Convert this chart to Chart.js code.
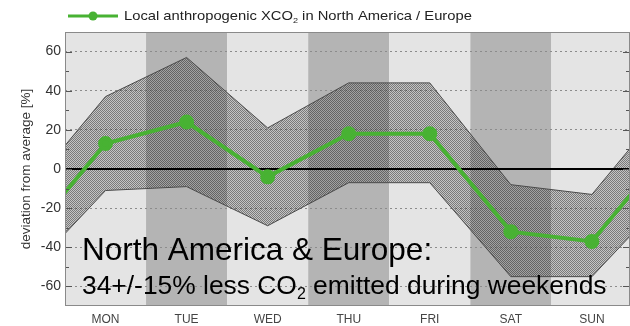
<!DOCTYPE html>
<html>
<head>
<meta charset="utf-8">
<script src="https://cdn.jsdelivr.net/npm/chart.js@4.4.0/dist/chart.umd.min.js"></script>
<style>
  html, body { margin: 0; padding: 0; background: #fff; overflow: hidden; }
  #wrap { width: 630px; height: 326px; }
</style>
</head>
<body>
<div id="wrap"><canvas id="c" width="630" height="326"></canvas></div>
<script>
// Weekly cycle of local anthropogenic XCO2, deviation from average [%]
const days = ['MON', 'TUE', 'WED', 'THU', 'FRI', 'SAT', 'SUN'];
const xco2 = [13, 24, -4, 18, 18, -32, -37];
const upperBound = [37, 57, 21, 44, 44, -8, -13];
const lowerBound = [-11, -9, -29, -7, -7, -55, -55];
const yTickLabels = [-60, -40, -20, 0, 20, 40, 60];

const FONT = '"Liberation Sans", Arial, Helvetica, sans-serif';
const GREEN = '#48b233';

// The week repeats: Sunday precedes Monday and Monday follows Sunday,
// so the curves run on past both edges of the plot.
function weekly(vals) {
  const pts = vals.map((v, i) => ({ x: i, y: v }));
  return [{ x: -1, y: vals[vals.length - 1] }, ...pts, { x: vals.length, y: vals[0] }];
}

// fine checker hatch for the uncertainty band
function hatch() {
  const c = document.createElement('canvas');
  c.width = 2; c.height = 2;
  const g = c.getContext('2d');
  g.fillStyle = 'rgba(115,115,115,0.28)';
  g.fillRect(0, 0, 2, 2);
  g.clearRect(0, 0, 1, 1); g.clearRect(1, 1, 1, 1);
  g.fillStyle = 'rgba(35,35,35,0.55)';
  g.fillRect(0, 0, 1, 1); g.fillRect(1, 1, 1, 1);
  return g.createPattern(c, 'repeat');
}

function drawSubText(ctx, parts, x, y, size) {
  // parts: [text, isSubscript]
  let cx = x;
  for (const [t, sub] of parts) {
    ctx.font = (sub ? Math.round(size * 0.62) : size) + 'px ' + FONT;
    ctx.fillText(t, cx, sub ? y + size * 0.2 : y);
    cx += ctx.measureText(t).width;
  }
  return cx;
}

const decorations = {
  id: 'decorations',
  beforeDraw(chart) {
    const { ctx, chartArea: a, scales: { x } } = chart;
    ctx.save();
    days.forEach((d, i) => {
      const l = Math.max(a.left, x.getPixelForValue(i - 0.5));
      const r = Math.min(a.right, x.getPixelForValue(i + 0.5));
      ctx.fillStyle = i % 2 === 0 ? '#e4e4e4' : '#b4b4b4';
      ctx.fillRect(l, a.top, r - l, a.bottom - a.top);
    });
    ctx.restore();
  },
  beforeDatasetDraw(chart, args) {
    if (args.index !== 0) return;
    const { ctx, chartArea: a, scales: { y } } = chart;
    const y0 = y.getPixelForValue(0);
    ctx.save();
    ctx.strokeStyle = '#000';
    ctx.lineWidth = 2;
    ctx.beginPath();
    ctx.moveTo(a.left, y0); ctx.lineTo(a.right, y0);
    ctx.stroke();
    ctx.restore();
  },
  afterDraw(chart) {
    const { ctx, chartArea: a, scales: { y } } = chart;
    ctx.save();
    // inward tick marks on both sides
    ctx.strokeStyle = '#555';
    ctx.lineWidth = 1;
    y.ticks.forEach(t => {
      if (t.value <= -70 || t.value >= 70) return;
      const len = yTickLabels.includes(t.value) ? 7 : 4;
      const py = Math.round(y.getPixelForValue(t.value)) + 0.5;
      ctx.beginPath();
      ctx.moveTo(a.left, py); ctx.lineTo(a.left + len, py);
      ctx.moveTo(a.right, py); ctx.lineTo(a.right - len, py);
      ctx.stroke();
    });
    // plot frame
    ctx.strokeStyle = '#8a8a8a';
    ctx.strokeRect(a.left + 0.5, a.top + 0.5, a.right - a.left - 1, a.bottom - a.top - 1);

    // y axis title
    ctx.fillStyle = '#333';
    ctx.font = '13.5px ' + FONT;
    ctx.textAlign = 'center';
    ctx.textBaseline = 'middle';
    ctx.translate(26, (a.top + a.bottom) / 2);
    ctx.rotate(-Math.PI / 2);
    ctx.fillText('deviation from average [%]', 0, 0);
    ctx.setTransform(1, 0, 0, 1, 0, 0);

    // legend
    ctx.strokeStyle = GREEN;
    ctx.lineWidth = 3;
    ctx.beginPath();
    ctx.moveTo(68, 16); ctx.lineTo(118, 16);
    ctx.stroke();
    ctx.fillStyle = GREEN;
    ctx.beginPath();
    ctx.arc(93, 16, 4.5, 0, Math.PI * 2);
    ctx.fill();
    ctx.fillStyle = '#222';
    ctx.textAlign = 'left';
    ctx.textBaseline = 'alphabetic';
    ctx.save();
    ctx.translate(124, 20);
    ctx.scale(1.135, 1);
    drawSubText(ctx, [['Local anthropogenic XCO', false], ['2', true], [' in North America / Europe', false]], 0, 0, 13);
    ctx.restore();

    // annotation
    ctx.fillStyle = '#000';
    ctx.font = '31.5px ' + FONT;
    ctx.fillText('North America & Europe:', 82, 260);
    drawSubText(ctx, [['34+/-15% less CO', false], ['2', true], [' emitted during weekends', false]], 82, 294, 26.4);
    ctx.restore();
  }
};

new Chart(document.getElementById('c'), {
  type: 'line',
  data: {
    datasets: [
      {
        label: 'Local anthropogenic XCO2 in North America / Europe',
        data: weekly(xco2),
        borderColor: GREEN,
        backgroundColor: GREEN,
        borderWidth: 4,
        pointRadius: ctx => (ctx.raw && (ctx.raw.x < 0 || ctx.raw.x >= days.length)) ? 0 : 5.5,
        pointBackgroundColor: GREEN,
        pointBorderColor: GREEN,
        tension: 0,
        fill: false,
        order: 0
      },
      {
        label: 'upper',
        data: weekly(upperBound),
        borderColor: '#4a4a4a',
        borderWidth: 1,
        pointRadius: 0,
        backgroundColor: hatch(),
        fill: '+1',
        tension: 0,
        order: 2
      },
      {
        label: 'lower',
        data: weekly(lowerBound),
        borderColor: '#4a4a4a',
        borderWidth: 1,
        pointRadius: 0,
        fill: false,
        tension: 0,
        order: 1
      }
    ]
  },
  options: {
    responsive: false,
    animation: false,
    events: [],
    layout: { padding: { top: 32, left: 0, right: 0, bottom: 0 } },
    plugins: { legend: { display: false }, tooltip: { enabled: false } },
    scales: {
      x: {
        type: 'linear',
        min: -0.5,
        max: 6.47,
        afterBuildTicks: s => { s.ticks = days.map((d, i) => ({ value: i })); },
        afterFit: s => { s.height = 20; },
        grid: { display: false, drawTicks: false },
        border: { display: false },
        ticks: {
          padding: 6,
          color: '#444',
          font: { family: FONT, size: 12 },
          maxRotation: 0,
          autoSkip: false,
          callback: v => days[v] ?? ''
        }
      },
      y: {
        min: -70,
        max: 70,
        afterFit: s => { s.width = 65; },
        grid: {
          drawTicks: false,
          color: ctx => (ctx.tick && ctx.tick.value !== 0 && yTickLabels.includes(ctx.tick.value)) ? '#8c8c8c' : 'rgba(0,0,0,0)',
          lineWidth: 1
        },
        border: { display: false, dash: [2, 3] },
        ticks: {
          stepSize: 10,
          maxTicksLimit: 20,
          autoSkip: false,
          padding: 4,
          color: '#333',
          font: { family: FONT, size: 14 },
          callback: v => yTickLabels.includes(v) ? String(v) : ''
        }
      }
    }
  },
  plugins: [decorations]
});
</script>
</body>
</html>
